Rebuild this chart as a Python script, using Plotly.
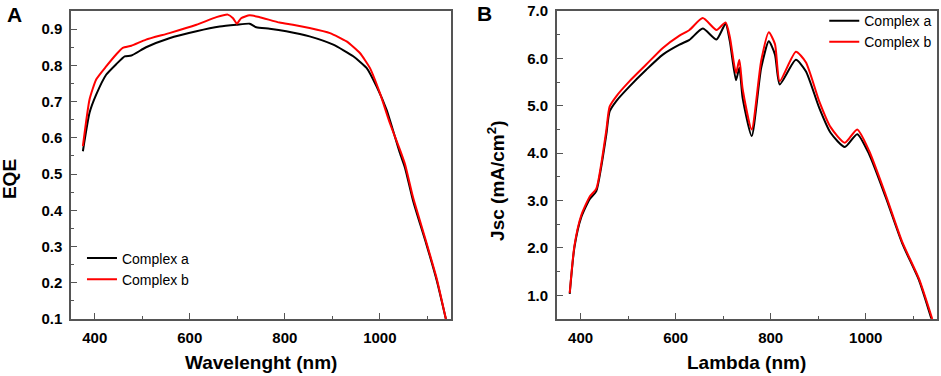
import plotly.graph_objects as go

# ---- Panel A: EQE ----
wl_a_black = [375, 389, 403, 424, 445, 463, 477, 508, 557, 614, 663, 698, 726, 740, 768,
              803, 852, 902, 944, 972, 993, 1014, 1042, 1053, 1070, 1098, 1120, 1139]
eqe_black = [0.563, 0.669, 0.719, 0.774, 0.803, 0.825, 0.827, 0.850, 0.875, 0.894, 0.907, 0.912, 0.915, 0.905, 0.901,
             0.894, 0.880, 0.857, 0.825, 0.793, 0.742, 0.678, 0.559, 0.517, 0.426, 0.306, 0.205, 0.100]

wl_a_red = [375, 389, 403, 424, 445, 459, 477, 508, 557, 614, 656, 680, 691, 699, 708, 726, 747,
            789, 817, 852, 895, 930, 958, 979, 1000, 1021, 1042, 1053, 1070, 1098, 1120, 1139]
eqe_red = [0.577, 0.706, 0.761, 0.797, 0.830, 0.848, 0.854, 0.871, 0.889, 0.912, 0.933, 0.940, 0.930, 0.915, 0.930, 0.938, 0.933,
           0.918, 0.912, 0.903, 0.889, 0.866, 0.834, 0.793, 0.724, 0.641, 0.568, 0.527, 0.435, 0.311, 0.210, 0.100]

# ---- Panel B: Jsc ----
wl_b_black = [377, 387, 401, 419, 433, 443, 454, 461, 475, 503, 538, 573, 608, 629, 657, 686, 705, 714,
              727, 734, 741, 760, 780, 796, 809, 819, 853, 874, 902, 926, 956, 982, 1007, 1042, 1077, 1112, 1138]
jsc_black = [1.03, 2.02, 2.64, 3.03, 3.20, 3.69, 4.39, 4.88, 5.10, 5.41, 5.76, 6.08, 6.29, 6.39, 6.63, 6.40, 6.73, 6.36,
             5.54, 5.80, 5.16, 4.36, 5.80, 6.36, 6.08, 5.45, 5.97, 5.73, 4.96, 4.43, 4.13, 4.40, 3.98, 3.07, 2.09, 1.32, 0.51]

wl_b_red = [377, 387, 401, 419, 433, 443, 454, 461, 475, 503, 538, 573, 608, 629, 657, 686, 705, 714,
            727, 734, 741, 760, 780, 796, 809, 819, 853, 874, 902, 926, 956, 982, 1007, 1042, 1077, 1112, 1140]
jsc_red = [1.05, 2.05, 2.68, 3.08, 3.25, 3.75, 4.48, 4.98, 5.20, 5.52, 5.87, 6.22, 6.48, 6.60, 6.85, 6.60, 6.76, 6.45,
           5.69, 5.97, 5.35, 4.50, 5.95, 6.55, 6.30, 5.52, 6.14, 5.92, 5.10, 4.55, 4.22, 4.50, 4.05, 3.12, 2.12, 1.35, 0.50]

series_names = ["Complex a", "Complex b"]
x_tickvals = [400, 600, 800, 1000]

FONT = "Liberation Sans, Arial, sans-serif"
FRAME = "#555555"

fig = go.Figure()
fig.add_trace(go.Scatter(x=wl_a_black, y=eqe_black, name=series_names[0], mode="lines",
                         line=dict(color="black", width=2, shape="spline", smoothing=0.5),
                         xaxis="x", yaxis="y", legend="legend"))
fig.add_trace(go.Scatter(x=wl_a_red, y=eqe_red, name=series_names[1], mode="lines",
                         line=dict(color="#ff0000", width=2, shape="spline", smoothing=0.5),
                         xaxis="x", yaxis="y", legend="legend"))
fig.add_trace(go.Scatter(x=wl_b_black, y=jsc_black, name=series_names[0], mode="lines",
                         line=dict(color="black", width=2, shape="spline", smoothing=0.6),
                         xaxis="x2", yaxis="y2", legend="legend2"))
fig.add_trace(go.Scatter(x=wl_b_red, y=jsc_red, name=series_names[1], mode="lines",
                         line=dict(color="#ff0000", width=2, shape="spline", smoothing=0.6),
                         xaxis="x2", yaxis="y2", legend="legend2"))

tickfont = dict(family=FONT, size=15, color="black", weight="bold")

def xax(domain, anchor):
    return dict(domain=domain, anchor=anchor, range=[350, 1150], tickvals=x_tickvals,
                ticks="inside", ticklen=6, tickwidth=1.2, tickcolor=FRAME,
                minor=dict(ticks="inside", ticklen=3, dtick=100, tick0=0, tickcolor=FRAME, tickwidth=1.2),
                showline=True, linecolor=FRAME, linewidth=1.5, mirror=True,
                showgrid=False, zeroline=False, tickfont=tickfont, ticklabelstandoff=4)

def yax(domain, anchor, rng, dtick, minor_dtick, tick0):
    return dict(domain=domain, anchor=anchor, range=rng, dtick=dtick, tick0=tick0, tickformat=".1f",
                ticks="inside", ticklen=6, tickwidth=1.2, tickcolor=FRAME,
                minor=dict(ticks="inside", ticklen=3, dtick=minor_dtick, tick0=tick0, tickcolor=FRAME, tickwidth=1.2),
                showline=True, linecolor=FRAME, linewidth=1.5, mirror=True,
                showgrid=False, zeroline=False, tickfont=tickfont, ticklabelstandoff=4)

L, R, T, B = 71, 2, 9, 57
W, H = 941, 376
pw = W - L - R
ph = H - T - B

def px2x(px):
    return (px - L) / pw

def py2y(py):
    return 1 - (py - T) / ph

dA = [0, px2x(452)]
dB = [px2x(558), 1]

fig.update_layout(
    width=W, height=H,
    margin=dict(l=L, r=R, t=T, b=B),
    paper_bgcolor="white", plot_bgcolor="white",
    font=dict(family=FONT, color="black"),
    xaxis=xax(dA, "y"),
    yaxis=yax([0, 1], "x", [0.1, 0.95], 0.1, 0.05, 0.1),
    xaxis2=xax(dB, "y2"),
    yaxis2=yax([0, 1], "x2", [0.5, 7.0], 1.0, 0.5, 0),
    legend=dict(x=px2x(82), y=py2y(242), xanchor="left", yanchor="top",
                bgcolor="rgba(0,0,0,0)", font=dict(family=FONT, size=14, color="black"),
                tracegroupgap=0, itemwidth=30),
    legend2=dict(x=px2x(826), y=py2y(3), xanchor="left", yanchor="top",
                 bgcolor="rgba(0,0,0,0)", font=dict(family=FONT, size=14, color="black"),
                 tracegroupgap=0, itemwidth=30),
    showlegend=True,
)

ann_font = dict(family=FONT, size=19, color="black", weight="bold")
annotations = [
    dict(text="EQE", x=px2x(10), y=py2y(178), textangle=-90),
    dict(text="Jsc (mA/cm<sup>2</sup>)", x=px2x(497), y=py2y(180), textangle=-90),
    dict(text="Wavelenght (nm)", x=px2x(261.5), y=py2y(363), textangle=0),
    dict(text="Lambda (nm)", x=px2x(748.5), y=py2y(363), textangle=0),
]
for a in annotations:
    fig.add_annotation(xref="paper", yref="paper", xanchor="center", yanchor="middle",
                       showarrow=False, font=ann_font, **a)
for letter, x, y in [("A", 14, 12.5), ("B", 485, 11.5)]:
    fig.add_annotation(text=letter, xref="paper", yref="paper", x=px2x(x), y=py2y(y),
                       xanchor="center", yanchor="middle", showarrow=False,
                       font=dict(family=FONT, size=21, color="black", weight="bold"))

fig.write_html("out.html", config={"displayModeBar": False},
               post_script="document.body.style.margin='0px';document.body.style.overflow='hidden';")
